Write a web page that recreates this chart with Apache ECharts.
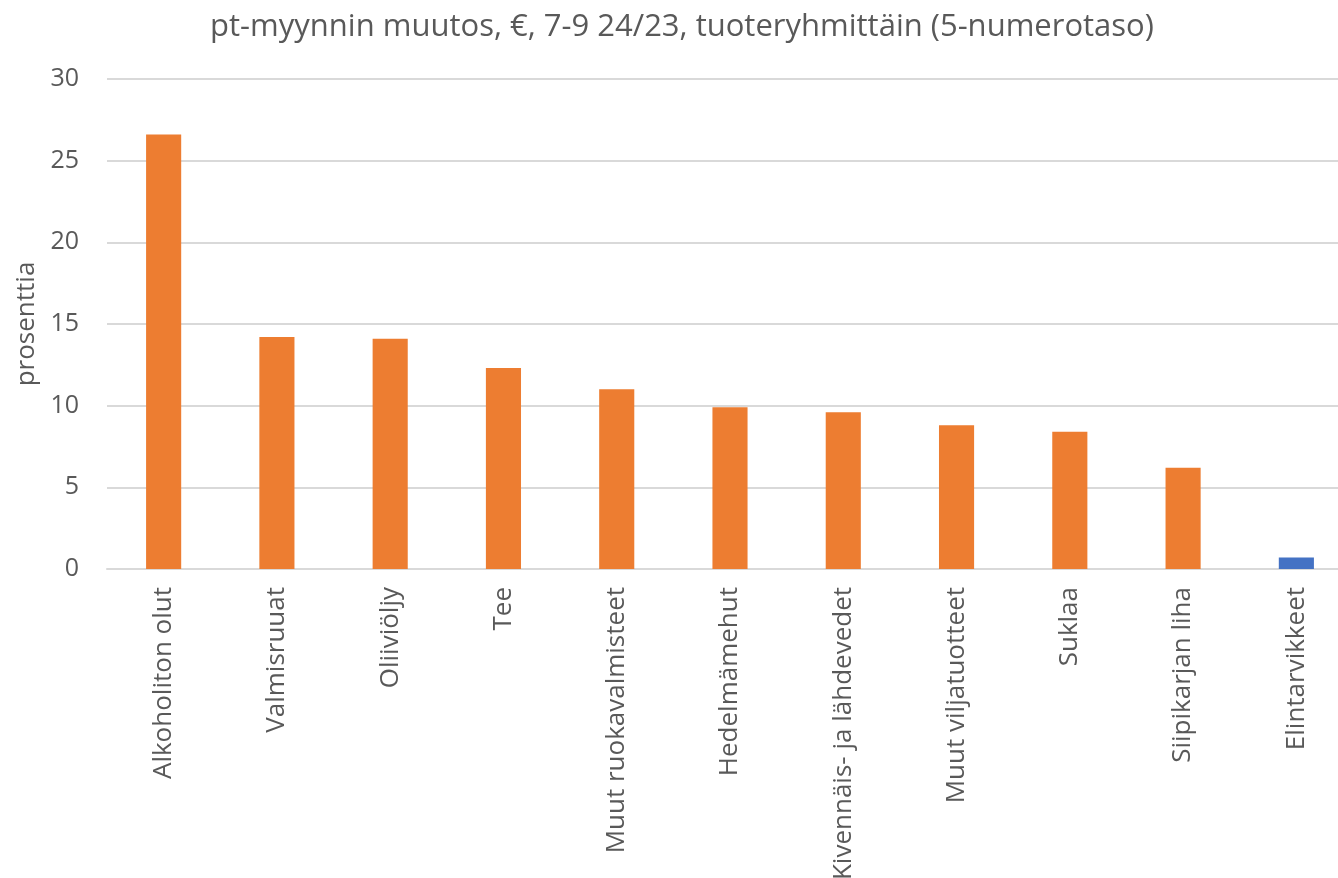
<!DOCTYPE html>
<html>
<head>
<meta charset="utf-8">
<script src="https://cdn.jsdelivr.net/npm/echarts@6/dist/echarts.min.js"></script>
<style>html,body{margin:0;padding:0;background:#fff}#c{width:1338px;height:878px}</style>
</head>
<body>
<div id="c"></div>
<script>
const titleText = 'pt-myynnin muutos, €, 7-9 24/23, tuoteryhmittäin (5-numerotaso)';
const yAxisName = 'prosenttia';
const categories = ['Alkoholiton olut','Valmisruuat','Oliiviöljy','Tee','Muut ruokavalmisteet','Hedelmämehut','Kivennäis- ja lähdevedet','Muut viljatuotteet','Suklaa','Siipikarjan liha','Elintarvikkeet'];
const values = [26.6, 14.2, 14.1, 12.3, 11.0, 9.9, 9.6, 8.8, 8.4, 6.2, 0.7];
const highlighted = ['Elintarvikkeet'];
const yTicks = {min: 0, max: 30, interval: 5};

const ORANGE = '#ED7D31', BLUE = '#4472C4', TEXT = '#595959', GRID = '#D9D9D9';
const FONT = 'Open Sans';

const chart = echarts.init(document.getElementById('c'), null, {renderer: 'canvas'});
chart.setOption({
  animation: false,
  backgroundColor: '#fff',
  title: {
    text: titleText, left: 677, top: 7, textAlign: 'center',
    textStyle: {fontFamily: FONT, fontSize: 31, fontWeight: 'normal', color: TEXT}
  },
  grid: {left: 107, width: 1246, top: 79, height: 490, containLabel: false, outerBoundsMode: 'none'},
  xAxis: {
    type: 'category', data: categories,
    axisLine: {show: true, lineStyle: {color: GRID, width: 2}},
    axisTick: {show: false},
    axisLabel: {rotate: 90, margin: 18, interval: 0, fontFamily: FONT, fontSize: 26, color: TEXT}
  },
  yAxis: {
    type: 'value', min: yTicks.min, max: yTicks.max, interval: yTicks.interval,
    name: yAxisName, nameLocation: 'middle', nameRotate: 90, nameGap: 64,
    nameTextStyle: {fontFamily: FONT, fontSize: 26, color: TEXT},
    axisLine: {show: false}, axisTick: {show: false},
    axisLabel: {margin: 28, fontFamily: FONT, fontSize: 25, color: TEXT},
    splitLine: {lineStyle: {color: GRID, width: 2}}
  },
  series: [{
    type: 'bar', barWidth: '31%',
    data: values.map((v, i) => ({value: v, itemStyle: {color: highlighted.includes(categories[i]) ? BLUE : ORANGE}}))
  }]
});
</script>
</body>
</html>
